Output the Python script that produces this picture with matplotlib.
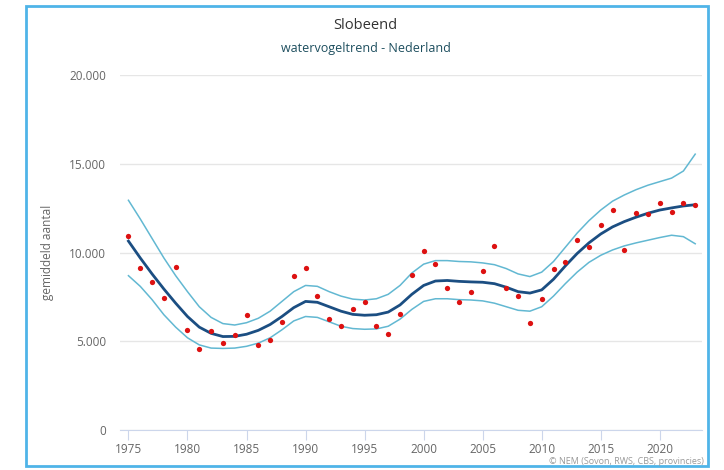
import numpy as np
import matplotlib.pyplot as plt
from matplotlib.patches import Rectangle

# data
years = np.arange(1975, 2024)

counts = [10930, 9130, 8340, 7440, 9180, 5630, 4560, 5580, 4900, 5350,
          6480, 4790, 5070, 6090, 8680, 9130, 7550, 6250, 5860, 6820,
          7210, 5860, 5410, 6540, 8730, 10090, 9350, 8000, 7210, 7780,
          8960, 10370, 8000, 7550, 6030, 7380, 9070, 9470, 10700, 10310,
          11550, 12390, 10140, 12230, 12170, 12790, 12280, 12790, 12680]

trend = [10650, 9700, 8800, 7950, 7150, 6400, 5800, 5450, 5270, 5280,
         5400, 5620, 5950, 6400, 6900, 7250, 7200, 6950, 6700, 6520,
         6470, 6500, 6650, 7050, 7650, 8150, 8400, 8430, 8380, 8350,
         8330, 8250, 8050, 7800, 7720, 7900, 8500, 9250, 9950, 10550,
         11050, 11450, 11750, 12000, 12220, 12400, 12520, 12630, 12700]

upper = [12950, 11900, 10800, 9700, 8700, 7800, 6950, 6350, 6000, 5920,
         6050, 6300, 6700, 7250, 7800, 8150, 8100, 7800, 7550, 7380,
         7330, 7400, 7650, 8150, 8850, 9350, 9550, 9550, 9500, 9480,
         9420, 9320, 9100, 8800, 8650, 8900, 9500, 10300, 11100, 11800,
         12400, 12900, 13250, 13550, 13800, 14000, 14200, 14600, 15550]

lower = [8700, 8100, 7350, 6500, 5800, 5200, 4800, 4620, 4600, 4620,
         4720, 4900, 5200, 5650, 6150, 6400, 6350, 6100, 5850, 5720,
         5680, 5700, 5850, 6250, 6800, 7250, 7400, 7400, 7350, 7330,
         7280, 7150, 6950, 6750, 6700, 6950, 7550, 8250, 8900, 9450,
         9850, 10150, 10380, 10550, 10700, 10850, 10980, 10900, 10500]

x_ticks = list(range(1975, 2021, 5))
y_ticks = [0, 5000, 10000, 15000, 20000]
y_labels = ["0", "5.000", "10.000", "15.000", "20.000"]

plt.rcParams['font.family'] = ['Open Sans', 'DejaVu Sans']

fig = plt.figure(figsize=(7.24, 4.70), dpi=100)
ax = fig.add_axes([0.166, 0.085, 0.804, 0.755])

# border round the whole picture
fig.patches.append(Rectangle((26 / 724, 1 - 466 / 470), 682 / 724, 460 / 470,
                             transform=fig.transFigure, fill=False,
                             edgecolor='#4fb4e8', linewidth=2))

ax.plot(years, upper, color='#62b8d2', linewidth=1.1)
ax.plot(years, lower, color='#62b8d2', linewidth=1.1)
ax.plot(years, trend, color='#1b4e82', linewidth=2.0)
ax.plot(years, counts, 'o', color='#dd1111', markersize=3.8, markeredgewidth=0)

ax.set_xlim(1974.3, 2023.6)
ax.set_ylim(0, 20000)
ax.set_yticks(y_ticks)
ax.set_yticklabels(y_labels)
ax.set_xticks(x_ticks)
ax.grid(axis='y', color='#e6e6e6', linewidth=1)
ax.set_axisbelow(True)

for side in ['top', 'right', 'left']:
    ax.spines[side].set_visible(False)
ax.spines['bottom'].set_color('#ccd6eb')
ax.tick_params(axis='y', length=0, pad=10, labelsize=8.5, labelcolor='#666666')
ax.tick_params(axis='x', length=7, color='#ccd6eb', pad=2, labelsize=8.5,
               labelcolor='#666666')

ax.set_ylabel("gemiddeld aantal", fontsize=8.5, color='#666666', labelpad=11)

fig.text(0.505, 0.945, "Slobeend", ha='center', va='center', fontsize=10.5,
         color='#333333')
fig.text(0.505, 0.897, "watervogeltrend - Nederland", ha='center', va='center',
         fontsize=9, color='#1d4e5e')
fig.text(0.972, 0.019, "© NEM (Sovon, RWS, CBS, provincies)", ha='right',
         va='center', fontsize=6.5, color='#999999')

fig.savefig("out.png", dpi=100)
